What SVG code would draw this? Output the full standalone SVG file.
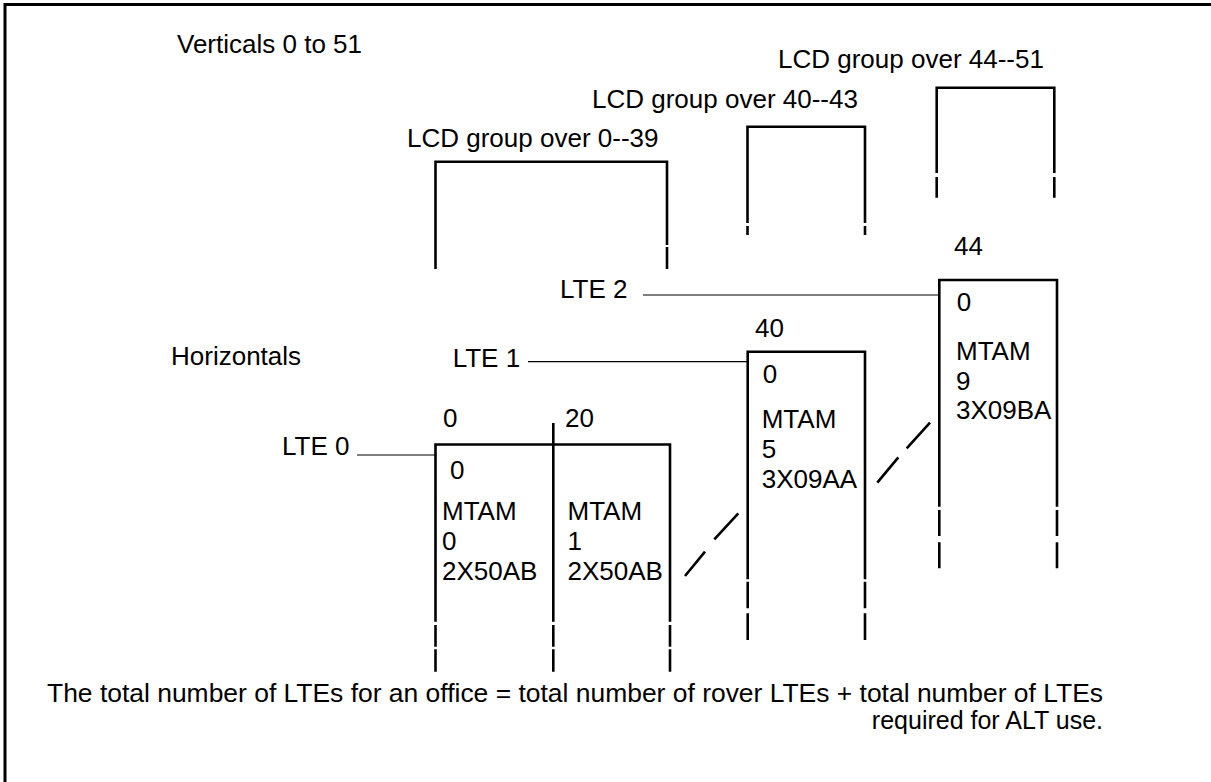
<svg xmlns="http://www.w3.org/2000/svg" width="1211" height="782" viewBox="0 0 1211 782">
<style>
text{font-family:"Liberation Sans",Arial,Helvetica,sans-serif;font-size:26px;fill:#000}
.n{font-size:25px}
.b{stroke:#000;stroke-width:2.6;fill:none;stroke-linecap:butt}
.c{stroke:#000;stroke-width:1.2;fill:none}
.d{stroke:#000;stroke-width:2.6;fill:none}
</style>
<rect width="1211" height="782" fill="#fff"/>
<rect x="5" y="4.5" width="1230" height="800" fill="none" stroke="#000" stroke-width="3"/>

<g id="title">
<text x="177" y="53">Verticals 0 to 51</text>
<text x="171" y="365">Horizontals</text>
</g>

<g id="lcd0">
<text x="407" y="147">LCD group over 0--39</text>
<path class="b" d="M435.5,269 V161.7 H667 V245 M667,247 V269"/>
</g>

<g id="lcd40">
<text x="592" y="108">LCD group over 40--43</text>
<path class="b" d="M747.5,223 V126.7 H865 V223 M747.5,226 V235 M865,226 V235"/>
</g>

<g id="lcd44">
<text x="778" y="68">LCD group over 44--51</text>
<path class="b" d="M936.7,173 V87.7 H1054.3 V173 M936.7,177 V197.7 M1054.3,177 V197.7"/>
</g>

<g id="box01">
<text x="443" y="426.5">0</text>
<text x="565" y="426.5">20</text>
<path class="b" d="M553.3,423 V621.7 M435.5,621.7 V444.5 H670 V621.7"/>
<path class="b" d="M435.5,625 V646.7 M435.5,649.3 V671.7 M553.3,625 V646.7 M553.3,649.3 V671.7 M670,625 V646.7 M670,649.3 V671.7"/>
<text x="450" y="479">0</text>
<text x="442" y="520">MTAM</text>
<text x="442" y="550">0</text>
<text x="442" y="579.5">2X50AB</text>
<text x="567.5" y="520">MTAM</text>
<text x="567.5" y="550">1</text>
<text x="567.5" y="579.5">2X50AB</text>
</g>

<g id="box5">
<text x="755" y="336.7">40</text>
<path class="b" d="M747.7,579.3 V351.7 H865 V579.3"/>
<path class="b" d="M747.7,581.7 V608.3 M747.7,613.3 V640 M865,581.7 V608.3 M865,613.3 V640"/>
<text x="762.7" y="383">0</text>
<text x="761.7" y="427.7">MTAM</text>
<text x="761.7" y="458">5</text>
<text x="761.7" y="487.7">3X09AA</text>
</g>

<g id="box9">
<text x="954" y="255">44</text>
<path class="b" d="M939.3,506.7 V280 H1057 V506.7"/>
<path class="b" d="M939.3,510 V536 M939.3,542.3 V568.3 M1057,510 V536 M1057,542.3 V568.3"/>
<text x="956.7" y="311">0</text>
<text x="956" y="360">MTAM</text>
<text x="956" y="389.5">9</text>
<text x="956" y="418.5">3X09BA</text>
</g>

<g id="lte-labels">
<text x="282" y="455">LTE 0</text>
<text x="452.7" y="367">LTE 1</text>
<text x="560" y="298">LTE 2</text>
</g>

<g id="connectors">
<line class="c" x1="357" y1="455" x2="435.5" y2="455"/>
<line class="c" x1="528" y1="361.7" x2="747.7" y2="361.7" stroke="#555"/>
<line class="c" x1="643" y1="295" x2="939.3" y2="295"/>
<path class="d" d="M685,576 L705,551.7 M714.3,539.3 L738.3,513.3"/>
<path class="d" d="M877.3,482.7 L898.3,457.3 M906.7,448.3 L930,422.7"/>
</g>

<g id="note">
<text class="n" x="47" y="702" textLength="1056" lengthAdjust="spacingAndGlyphs">The total number of LTEs for an office = total number of rover LTEs + total number of LTEs</text>
<text class="n" x="1103" y="729" text-anchor="end">required for ALT use.</text>
</g>
</svg>
